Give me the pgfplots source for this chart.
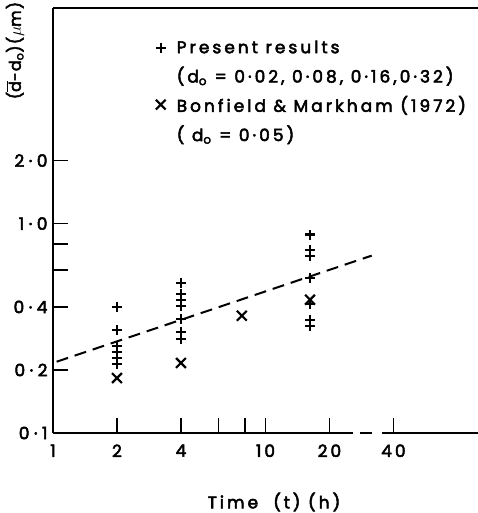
\documentclass[border=0pt]{standalone}
\usepackage{fontspec}
\setmainfont{Poppins}[LetterSpace=18, FakeBold=3]
\newfontfamily\labelfont{Poppins}[LetterSpace=8, FakeBold=3]
\usepackage{pgfplots}
\pgfplotsset{compat=1.18}
\newcommand{\dt}{\hspace{4.5bp}·\hspace{4.5bp}}
\begin{document}
\begin{tikzpicture}
\useasboundingbox (-53bp,-80bp) rectangle (425bp,433bp);
\begin{axis}[
  at={(0,0)}, anchor=south west,
  scale only axis, width=425bp, height=425bp,
  xmode=log, ymode=log,
  xmin=1, xmax=100, ymin=0.1, ymax=10.7,
  axis x line=box, axis y line=left,
  axis line style={-, line width=1.5bp},
  xtick pos=bottom, ytick pos=left,
  tick align=inside,
  major tick length=15bp,
  tick style={line width=1.5bp, black},
  xminorticks=false, yminorticks=false,
  xtick={1,2,4,6,8,10,20,40},
  xticklabels={1,2,4,,,10,20,40},
  ytick={0.1,0.2,0.4,0.6,0.8,1,2},
  yticklabels={0\dt1,0\dt2,0\dt4,,,1\dt0,2\dt0},
  ticklabel style={font=\fontsize{17}{19}\selectfont},
  xticklabel style={yshift=-8bp},
  yticklabel style={xshift=-2bp},
  xlabel={Time\ \ (\,t\,)\ (h)},
  xlabel style={at={(axis description cs:0.52,0)}, anchor=center, yshift=-69bp, font=\fontsize{17}{19}\selectfont},
  ylabel={($\overline{\mbox{d}}$-d\textsubscript{o})($\mu$m)},
  ylabel style={at={(axis description cs:-0.0894,0.9)}, anchor=center, font=\labelfont\fontsize{16}{18}\selectfont},
  legend cell align=left,
  legend style={at={(axis description cs:0.226,0.933)}, anchor=north west, draw=none, fill=none,
    font=\fontsize{17}{19}\selectfont, row sep=8bp, column sep=9bp},
  clip=false,
]
% present results
\addplot[only marks, mark=+, mark size=5, line width=2.2bp] coordinates {
  (2,0.401) (2,0.311) (2,0.261) (2,0.244) (2,0.229) (2,0.214)
  (4,0.522) (4,0.462) (4,0.433) (4,0.405) (4,0.351) (4,0.304) (4,0.282)
  (16.2,0.886) (16.2,0.751) (16.2,0.703) (16.2,0.552) (16.2,0.414) (16.2,0.347) (16.2,0.325)
};
\addlegendentry{Present results}
\addlegendimage{empty legend}
\addlegendentry{(d\textsubscript{o} = 0·02, 0·08, 0·16,0·32)\rule[-14bp]{0pt}{0pt}}
% Bonfield & Markham
\addplot[only marks, mark=x, mark size=7, line width=2.2bp] coordinates {
  (2,0.183) (4,0.216) (7.74,0.363) (16.2,0.433)
};
\addlegendentry{Bonfield \& Markham (1972)}
\addlegendimage{empty legend}
\addlegendentry{( d\textsubscript{o} = 0·05)}
% fitted line
\addplot[forget plot, black, line width=2bp, dash pattern=on 12bp off 7bp] coordinates {
  (1.04,0.219) (31.6,0.703)
};
% axis break
\draw[white, line width=4bp] (axis cs:25.8,0.1) -- (axis cs:27.8,0.1);
\draw[white, line width=4bp] (axis cs:31.7,0.1) -- (axis cs:35.3,0.1);
\end{axis}
\end{tikzpicture}
\end{document}
